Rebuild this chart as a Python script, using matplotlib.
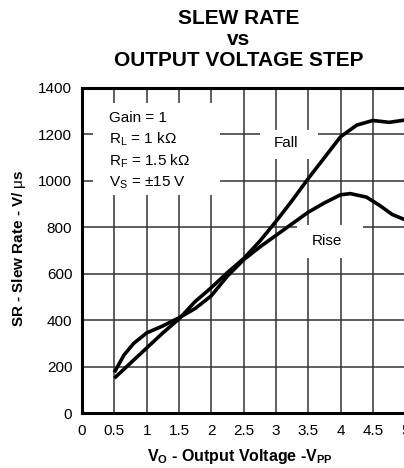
import matplotlib
matplotlib.use('Agg')
import matplotlib.pyplot as plt
from matplotlib.patches import Rectangle

plt.rcParams['font.family'] = ['Liberation Sans', 'DejaVu Sans']
plt.rcParams['mathtext.fontset'] = 'custom'
plt.rcParams['mathtext.rm'] = 'Liberation Sans'
plt.rcParams['mathtext.it'] = 'Liberation Sans'
plt.rcParams['mathtext.bf'] = 'Liberation Sans:bold'

# values
fall_v = [0.5, 0.75, 1.0, 1.25, 1.5, 1.75, 2.0, 2.25, 2.5, 2.75, 3.0, 3.25, 3.5, 3.75, 4.0, 4.25, 4.5, 4.75, 5.0]
fall_sr = [150, 215, 280, 345, 405, 480, 540, 605, 665, 740, 825, 915, 1010, 1100, 1190, 1240, 1260, 1252, 1262]
rise_v = [0.5, 0.65, 0.8, 1.0, 1.25, 1.5, 1.75, 2.0, 2.25, 2.5, 2.75, 3.0, 3.25, 3.5, 3.75, 4.0, 4.15, 4.4, 4.6, 4.8, 5.0]
rise_sr = [175, 250, 300, 345, 375, 410, 450, 505, 590, 660, 715, 765, 815, 865, 905, 940, 945, 930, 895, 855, 832]

xticks = [0, 0.5, 1, 1.5, 2, 2.5, 3, 3.5, 4, 4.5, 5]
xticklabels = ['0', '0.5', '1', '1.5', '2', '2.5', '3', '3.5', '4', '4.5', '5']
yticks = [0, 200, 400, 600, 800, 1000, 1200, 1400]

fig = plt.figure(figsize=(4.04, 4.68), dpi=100)
ax = fig.add_axes([0.203, 0.1175, 0.8, 0.6945])

ax.plot(fall_v, fall_sr, color='black', lw=2.6, solid_capstyle='butt', zorder=3)
ax.plot(rise_v, rise_sr, color='black', lw=2.6, solid_capstyle='butt', zorder=3)

ax.set_xlim(0, 5)
ax.set_ylim(0, 1400)
ax.set_xticks(xticks)
ax.set_xticklabels(xticklabels)
ax.set_yticks(yticks)
ax.tick_params(length=0, labelsize=11)
ax.tick_params(axis='x', pad=8)
ax.tick_params(axis='y', pad=7)
ax.grid(True, color='#333333', lw=1.1)
ax.set_axisbelow(True)

for s in ['left', 'bottom', 'top']:
    ax.spines[s].set_linewidth(2.2)
ax.spines['right'].set_visible(False)

# white blanks behind the annotations (cut the grid like the original)
ax.add_patch(Rectangle((0.034, 0.67), 0.393, 0.284, transform=ax.transAxes,
                       facecolor='white', edgecolor='none', zorder=1.5))
ax.add_patch(Rectangle((0.55, 0.78), 0.18, 0.09, transform=ax.transAxes,
                       facecolor='white', edgecolor='none', zorder=1.5))
ax.add_patch(Rectangle((0.665, 0.478), 0.205, 0.1, transform=ax.transAxes,
                       facecolor='white', edgecolor='none', zorder=1.5))

cond = ['Gain = 1', r'R$_\mathrm{L}$ = 1 k$\Omega$', r'R$_\mathrm{F}$ = 1.5 k$\Omega$',
        r'V$_\mathrm{S}$ = $\pm$15 V']
for i, t in enumerate(cond):
    ax.text(0.082, 0.907 - i * 0.066, t, transform=ax.transAxes, fontsize=11,
            va='center', ha='left', zorder=4)

ax.text(0.632, 0.83, 'Fall', transform=ax.transAxes, fontsize=11,
        ha='center', va='center', zorder=4)
ax.text(0.757, 0.53, 'Rise', transform=ax.transAxes, fontsize=11,
        ha='center', va='center', zorder=4)

ax.set_ylabel(r'SR - Slew Rate - V/ $\mu$s', fontsize=11, fontweight='bold')
ax.yaxis.set_label_coords(-0.168, 0.508)
ax.set_xlabel(r'V$_\mathbf{O}$ - Output Voltage -V$_\mathbf{PP}$', fontsize=11.5,
              fontweight='bold')
ax.xaxis.set_label_coords(0.49, -0.105)

title_lines = ['SLEW RATE', 'vs', 'OUTPUT VOLTAGE STEP']
for txt, yb in zip(title_lines, [0.9487, 0.9038, 0.859]):
    fig.text(0.5916, yb, txt, fontsize=15, fontweight='bold', ha='center', va='baseline')

fig.savefig('out.png', dpi=100)
